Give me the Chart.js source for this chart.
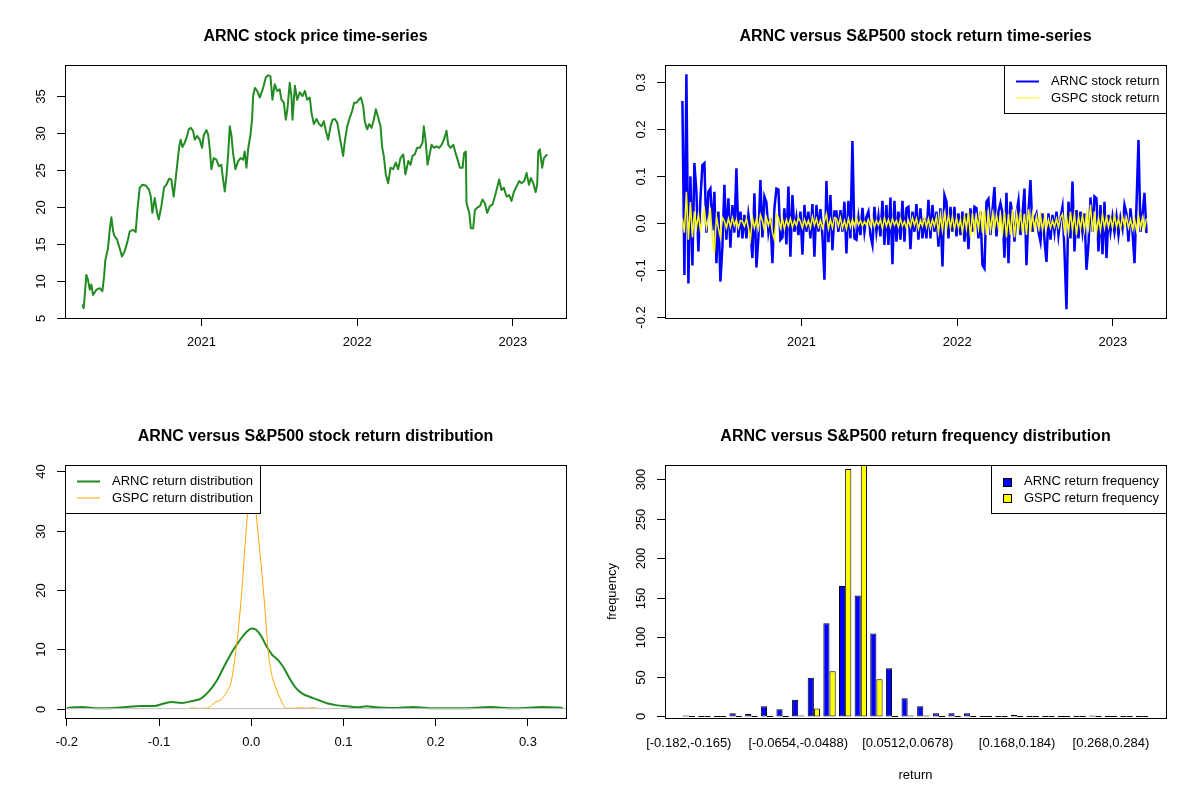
<!DOCTYPE html>
<html>
<head>
<meta charset="utf-8">
<title>ARNC versus S&amp;P500</title>
<script src="https://cdn.jsdelivr.net/npm/chart.js@4.4.0/dist/chart.umd.min.js"></script>
<style>
  body { margin: 0; background: #fff; }
  #wrap { position: relative; width: 1200px; height: 800px; }
  canvas { position: absolute; }
</style>
</head>
<body>
<div id="wrap">
  <canvas id="price" width="600" height="400" style="left:0px;top:0px"></canvas>
  <canvas id="returns" width="600" height="400" style="left:600px;top:0px"></canvas>
  <canvas id="density" width="600" height="400" style="left:0px;top:400px"></canvas>
  <canvas id="freq" width="600" height="400" style="left:600px;top:400px"></canvas>
</div>
<script>
// ---- data ----

// ARNC closing price (x = decimal year)
const priceYears = [
  2020.236, 2020.244, 2020.251, 2020.261, 2020.272, 2020.283, 2020.293, 2020.304, 2020.326, 2020.347,
  2020.364, 2020.375, 2020.383, 2020.400, 2020.411, 2020.422, 2020.433, 2020.443, 2020.458, 2020.475,
  2020.490, 2020.507, 2020.525, 2020.540, 2020.561, 2020.578, 2020.589, 2020.604, 2020.621, 2020.642,
  2020.664, 2020.675, 2020.685, 2020.700, 2020.715, 2020.726, 2020.743, 2020.760, 2020.775, 2020.792,
  2020.807, 2020.822, 2020.835, 2020.848, 2020.857, 2020.867, 2020.878, 2020.893, 2020.908, 2020.919,
  2020.931, 2020.946, 2020.957, 2020.972, 2020.989, 2021.004, 2021.015, 2021.032, 2021.043, 2021.054,
  2021.064, 2021.079, 2021.096, 2021.113, 2021.128, 2021.139, 2021.150, 2021.161, 2021.171, 2021.182,
  2021.193, 2021.203, 2021.218, 2021.236, 2021.251, 2021.268, 2021.278, 2021.289, 2021.300, 2021.315,
  2021.325, 2021.332, 2021.343, 2021.358, 2021.375, 2021.390, 2021.400, 2021.413, 2021.428, 2021.443,
  2021.456, 2021.471, 2021.486, 2021.503, 2021.514, 2021.529, 2021.542, 2021.552, 2021.567, 2021.578,
  2021.585, 2021.600, 2021.615, 2021.632, 2021.649, 2021.664, 2021.679, 2021.696, 2021.707, 2021.722,
  2021.739, 2021.756, 2021.771, 2021.786, 2021.799, 2021.814, 2021.829, 2021.842, 2021.857, 2021.872,
  2021.884, 2021.899, 2021.910, 2021.921, 2021.936, 2021.953, 2021.968, 2021.981, 2021.996, 2022.011,
  2022.024, 2022.039, 2022.049, 2022.064, 2022.077, 2022.092, 2022.107, 2022.120, 2022.135, 2022.150,
  2022.161, 2022.171, 2022.184, 2022.199, 2022.214, 2022.231, 2022.248, 2022.263, 2022.278, 2022.296,
  2022.310, 2022.328, 2022.343, 2022.355, 2022.370, 2022.385, 2022.403, 2022.420, 2022.428, 2022.439,
  2022.452, 2022.467, 2022.478, 2022.493, 2022.510, 2022.527, 2022.542, 2022.557, 2022.574, 2022.585,
  2022.600, 2022.617, 2022.632, 2022.645, 2022.660, 2022.677, 2022.687, 2022.698, 2022.702, 2022.720,
  2022.730, 2022.745, 2022.756, 2022.771, 2022.788, 2022.805, 2022.820, 2022.835, 2022.852, 2022.869,
  2022.884, 2022.899, 2022.912, 2022.927, 2022.942, 2022.959, 2022.976, 2022.991, 2023.006, 2023.024,
  2023.041, 2023.056, 2023.073, 2023.088, 2023.103, 2023.116, 2023.131, 2023.146, 2023.156, 2023.163,
  2023.173, 2023.188, 2023.199, 2023.212, 2023.221
];
const priceValues = [
  6.8, 6.3, 8.1, 10.8, 10.1, 8.8, 9.5, 8.1, 8.8, 9.0,
  8.6, 10.6, 12.8, 14.4, 16.9, 18.6, 16.7, 16.0, 15.6, 14.4,
  13.3, 14.0, 15.3, 16.7, 16.9, 16.6, 19.6, 22.6, 23.0, 22.9,
  22.3, 21.4, 19.2, 21.2, 19.2, 18.3, 20.1, 22.6, 23.0, 23.8,
  23.7, 21.4, 23.9, 26.4, 28.1, 29.1, 28.1, 28.7, 29.6, 30.5,
  30.7, 30.3, 29.1, 29.6, 29.1, 28.0, 29.7, 30.4, 29.8, 27.8,
  25.1, 26.6, 26.4, 25.5, 25.7, 23.7, 22.1, 24.2, 26.9, 30.9,
  29.6, 27.3, 25.1, 26.2, 26.6, 26.4, 27.5, 25.3, 27.8, 29.8,
  31.8, 35.0, 36.1, 35.7, 34.8, 35.7, 36.4, 37.5, 37.8, 37.7,
  34.5, 36.6, 35.7, 35.9, 34.5, 34.1, 31.8, 33.2, 36.8, 35.0,
  31.8, 36.4, 34.5, 35.5, 35.0, 35.7, 34.5, 34.8, 32.7, 31.2,
  31.9, 31.2, 30.9, 31.6, 30.3, 29.1, 30.9, 31.8, 31.9, 31.4,
  30.0, 28.2, 26.9, 28.9, 30.9, 32.1, 33.0, 34.1, 34.1, 34.5,
  34.8, 33.6, 31.6, 30.5, 31.2, 30.7, 31.8, 33.2, 32.1, 30.9,
  28.0, 26.9, 24.4, 23.2, 25.3, 25.1, 26.0, 25.1, 26.6, 27.1,
  24.4, 26.2, 25.7, 26.9, 27.1, 28.0, 28.0, 28.7, 30.9, 29.1,
  25.7, 27.3, 28.4, 28.0, 28.2, 28.0, 28.4, 29.1, 30.3, 28.4,
  28.0, 28.4, 27.3, 26.4, 25.3, 25.3, 27.3, 27.5, 20.5, 19.2,
  17.1, 17.1, 19.6, 19.9, 20.1, 21.0, 20.5, 19.2, 20.1, 20.3,
  21.4, 22.6, 23.7, 22.3, 22.6, 21.4, 21.6, 20.8, 22.0, 22.8,
  23.5, 23.2, 23.5, 24.6, 23.0, 23.9, 23.2, 22.0, 23.0, 27.5,
  27.8, 25.3, 26.6, 26.9, 27.1
];

// daily returns, sampled at even steps of time from returnStart
const returnStart = 2020.2357;
const returnStep = 0.012845;
const arncReturn = [
  0.26, -0.11, 0.317, -0.128, 0.10, -0.09, 0.128, 0.067, -0.06, 0.05,
  0.124, 0.128, -0.02, 0.067, 0.074, -0.015, 0.067, -0.085, 0.025, -0.124,
  -0.05, 0.082, -0.035, 0.053, -0.052, 0.039, -0.02, 0.117, -0.03, 0.025,
  -0.032, 0.018, -0.032, 0.018, -0.015, -0.074, 0.064, -0.094, -0.03, 0.092,
  -0.03, 0.057, 0.045, -0.018, 0.01, -0.085, 0.032, 0.074, 0.072, -0.035,
  -0.03, 0.032, -0.045, 0.078, -0.071, 0.06, -0.018, 0.012, -0.025, 0.025,
  -0.067, 0.039, -0.018, 0.025, -0.032, 0.041, -0.071, 0.039, -0.018, 0.03,
  -0.025, -0.12, 0.09, -0.04, 0.06, -0.057, 0.025,
  0.025, -0.018, 0.028, -0.018, 0.046, -0.064, 0.048, -0.032, 0.175, -0.032,
  -0.035, 0.011, -0.025, 0.033, -0.018, 0.014, 0.025, -0.025, -0.046, 0.035,
  -0.018, 0.015, -0.028, 0.048, -0.046, 0.039, -0.046, 0.055, -0.087, 0.048,
  -0.039, 0.025, -0.035, 0.048, -0.039, 0.032, 0.035, -0.055, 0.025, -0.018,
  0.041, -0.035, 0.032, -0.032, 0.011, -0.032, 0.05, -0.032, 0.039, -0.018,
  0.025, -0.05, 0.032, -0.092, 0.06, 0.046, -0.032, 0.035, -0.018, 0.035,
  -0.028, 0.021, -0.025, 0.025, -0.039, 0.021, -0.055, 0.032, -0.018, 0.035,
  0.032, -0.032, 0.025, -0.089, -0.096, 0.046, 0.052, -0.025, 0.028, 0.077,
  -0.028, 0.025,
  0.043, 0.021, -0.073, 0.065, -0.085, 0.046, 0.018, -0.039, 0.021, 0.048,
  -0.025, 0.018, 0.074, -0.089, 0.025, 0.092, -0.018, 0.011, 0.021, -0.018,
  -0.039, 0.021, -0.035, -0.082, 0.021, -0.035, 0.018, -0.018, 0.025, -0.025,
  0.011, 0.035, -0.06, -0.183, 0.046, -0.032, 0.089, -0.06, 0.028, -0.032,
  0.025, -0.018, 0.021, -0.099, -0.045, 0.055, -0.018, 0.057, 0.053, -0.06,
  0.039, -0.066, 0.046, -0.074, 0.018, -0.018, 0.014, -0.018, 0.014, -0.025,
  0.011, -0.011, 0.039, 0.021, -0.039, 0.032, -0.018, -0.085, 0.039, 0.177,
  -0.018, 0.018, 0.065, -0.021
];
const gspcReturn = [
  0.01, -0.02, 0.067, -0.035, 0.045, -0.03, 0.025, -0.01, 0.02, -0.015,
  0.01, 0.03, -0.01, 0.012, 0.028, -0.03, -0.064, 0.015, -0.01, -0.03,
  0.012, 0.005, -0.01, 0.01, -0.008, 0.012, -0.005, 0.008, -0.01, 0.006,
  0.004, -0.006, 0.01, -0.01, -0.035, 0.012, -0.01, 0.008, -0.012, 0.018,
  0.005, -0.015, 0.012, -0.005, 0.01, -0.02, -0.035, 0.02, 0.012, -0.01,
  0.01, -0.012, 0.008, -0.006, 0.01, -0.008, 0.006, -0.005, 0.012, 0.004,
  -0.01, 0.008, -0.006, 0.006, -0.01, 0.014, -0.004, 0.01, -0.008, 0.006,
  -0.01, 0.004, 0.02, -0.012, 0.008, -0.01, 0.012,
  0.01, -0.006, 0.012, -0.01, 0.006, -0.012, 0.01, -0.008, 0.008, -0.006,
  0.012, -0.004, 0.006, -0.006, 0.004, -0.004, 0.008, -0.006, 0.01, -0.008,
  0.006, -0.004, 0.008, -0.012, 0.012, -0.006, 0.008, -0.008, 0.01, -0.004,
  0.006, -0.008, 0.01, -0.006, 0.004, -0.01, 0.006, -0.008, 0.012, -0.004,
  0.01, -0.012, 0.006, -0.006, 0.012, -0.008, 0.01, -0.01, 0.008, -0.006,
  0.014, -0.02, 0.018, -0.015, 0.02, -0.012, 0.018, -0.01, 0.015, -0.014,
  0.012, -0.01, 0.008, -0.02, 0.016, -0.012, 0.025, -0.03, 0.022, -0.018,
  0.015, -0.012, 0.028, -0.02, 0.03, -0.025, 0.022, -0.015, 0.02, -0.012,
  0.018, -0.01,
  0.015, -0.02, 0.025, -0.03, 0.02, -0.025, 0.03, -0.03, 0.02, -0.015,
  0.025, -0.02, 0.02, -0.025, 0.03, -0.018, 0.02, -0.012, 0.015, -0.01,
  0.018, -0.015, 0.012, -0.01, 0.008, -0.01, 0.006, -0.008, 0.01, -0.008,
  0.012, 0.02, -0.018, 0.015, -0.02, 0.025, -0.015, 0.02, -0.025, 0.015,
  -0.012, 0.018, -0.015, 0.02, -0.01, 0.04, -0.018, 0.025, -0.02, 0.012,
  -0.015, 0.02, -0.01, 0.015, -0.008, 0.012, -0.01, 0.018, -0.008, 0.01,
  -0.012, 0.015, -0.006, 0.012, -0.01, 0.008, -0.012, 0.01, -0.015, 0.016,
  -0.01, 0.012, -0.012, 0.01
];

// kernel density of the returns
const arncDensityX = [
  -0.2, -0.1839, -0.1652, -0.1352, -0.1202, -0.1052, -0.094, -0.0865, -0.0753, -0.064,
  -0.0547, -0.0472, -0.0378, -0.0285, -0.0191, -0.0116, -0.006, 0.0007, 0.0052, 0.0109,
  0.0165, 0.0221, 0.0296, 0.0352, 0.0408, 0.0483, 0.0558, 0.0633, 0.0727, 0.082,
  0.0933, 0.1045, 0.1157, 0.1251, 0.1345, 0.1532, 0.1757, 0.1981, 0.2281, 0.2599,
  0.2843, 0.3161, 0.3378
];
const arncDensityY = [
  0.1, 0.28, 0.05, 0.28, 0.45, 0.45, 0.9, 1.1, 0.95, 1.3,
  1.7, 2.7, 4.6, 7.4, 10.0, 11.7, 12.8, 13.5, 13.3, 12.2,
  10.5, 9.2, 8.1, 6.9, 5.3, 3.5, 2.5, 2.0, 1.45, 0.9,
  0.55, 0.4, 0.22, 0.4, 0.22, 0.1, 0.28, 0.05, 0.05, 0.28,
  0.05, 0.28, 0.1
];
const gspcDensityX = [
  -0.0659, -0.0566, -0.0472, -0.0397, -0.0322, -0.0258, -0.0217, -0.0161, -0.0109, -0.0041,
  0.0004, 0.0052, 0.0139, 0.0184, 0.0221, 0.0266, 0.0326, 0.0371, 0.045, 0.052,
  0.06, 0.066, 0.0727
];
const gspcDensityY = [
  0.15, 0.05, 0.1, 1.0, 1.6, 3.0, 4.6, 10.5, 18.6, 32.9,
  39.5, 32.9, 18.6, 9.7, 5.8, 3.5, 1.3, 0.1, 0.05, 0.15,
  0.05, 0.15, 0.05
];

// histogram of the returns
const binLabels = [
  "[-0.182,-0.165)", "[-0.165,-0.149)", "[-0.149,-0.132)", "[-0.132,-0.115)", "[-0.115,-0.0988)",
  "[-0.0988,-0.0821)", "[-0.0821,-0.0654)", "[-0.0654,-0.0488)", "[-0.0488,-0.0321)", "[-0.0321,-0.0155)",
  "[-0.0155,0.0012)", "[0.0012,0.0179)", "[0.0179,0.0345)", "[0.0345,0.0512)", "[0.0512,0.0678)",
  "[0.0678,0.0845)", "[0.0845,0.101)", "[0.101,0.118)", "[0.118,0.134)", "[0.134,0.151)",
  "[0.151,0.168)", "[0.168,0.184)", "[0.184,0.201)", "[0.201,0.218)", "[0.218,0.234)",
  "[0.234,0.251)", "[0.251,0.268)", "[0.268,0.284)", "[0.284,0.301)", "[0.301,0.318]"
];
const arncFreq = [1, 0, 0, 4, 3, 13, 9, 21, 49, 118, 165, 153, 105, 61, 23, 13, 4, 4, 4, 0, 0, 2, 0, 0, 0, 0, 1, 0, 0, 0];
const gspcFreq = [0, 0, 0, 0, 0, 0, 0, 1, 10, 57, 313, 318, 47, 0, 1, 1, 0, 0, 0, 0, 0, 0, 0, 0, 0, 0, 0, 0, 0, 0];
const shownBins = [0, 7, 14, 21, 27];   // labels R kept after overlap check

// tick labels
const yearTicks = [2021, 2022, 2023];
const priceTicks = [5, 10, 15, 20, 25, 30, 35];
const returnTicks = [-0.2, -0.1, 0, 0.1, 0.2, 0.3];
const densityXTicks = [-0.2, -0.1, 0, 0.1, 0.2, 0.3];
const densityYTicks = [0, 10, 20, 30, 40];
const freqTicks = [0, 50, 100, 150, 200, 250, 300];

// ---- drawing ----
const FONT = '"Liberation Sans", Arial, Helvetica, sans-serif';
Chart.defaults.font.family = FONT;
Chart.defaults.font.size = 13;
Chart.defaults.color = '#000';

// plot box of every panel (canvas coords)
const BOX = { left: 65, top: 65, right: 566, bottom: 318 };

// R style frame: box, rotated y labels, title, axis titles, legend
function rFrame(cfg) {
  return {
    id: 'rFrame',
    afterDraw(chart) {
      const ctx = chart.ctx;
      const y = chart.scales.y;
      ctx.save();
      ctx.strokeStyle = '#000';
      ctx.fillStyle = '#000';
      ctx.lineWidth = 1;

      ctx.font = '13px ' + FONT;
      ctx.textAlign = 'center';
      ctx.textBaseline = 'middle';
      cfg.yTicks.forEach(function(v) {
        const py = Math.round(y.getPixelForValue(v)) + 0.5;
        ctx.beginPath();
        ctx.moveTo(BOX.left - 8, py);
        ctx.lineTo(BOX.left, py);
        ctx.stroke();
        ctx.save();
        ctx.translate(BOX.left - 23.5, py);
        ctx.rotate(-Math.PI / 2);
        ctx.fillText(cfg.yLabel(v), 0, 0);
        ctx.restore();
      });

      if (cfg.xTitle) {
        ctx.fillText(cfg.xTitle, (BOX.left + BOX.right) / 2, 375);
      }
      if (cfg.yTitle) {
        ctx.save();
        ctx.translate(12, (BOX.top + BOX.bottom) / 2);
        ctx.rotate(-Math.PI / 2);
        ctx.fillText(cfg.yTitle, 0, 0);
        ctx.restore();
      }

      if (cfg.legend) drawLegend(ctx, cfg.legend);

      ctx.strokeStyle = '#000';
      ctx.lineWidth = 1;
      ctx.strokeRect(BOX.left + 0.5, BOX.top + 0.5, BOX.right - BOX.left, BOX.bottom - BOX.top);

      ctx.fillStyle = '#000';
      ctx.font = 'bold 16px ' + FONT;
      ctx.textAlign = 'center';
      ctx.textBaseline = 'alphabetic';
      ctx.fillText(cfg.title, (BOX.left + BOX.right) / 2, 40.5);
      ctx.restore();
    }
  };
}

function drawLegend(ctx, lg) {
  ctx.font = '13px ' + FONT;
  let textW = 0;
  lg.items.forEach(function(it) { textW = Math.max(textW, ctx.measureText(it.label).width); });
  const fill = lg.kind === 'fill';
  const textOff = fill ? 33 : 47;
  const w = Math.round(textOff + textW + 7);
  const h = 48;
  const x0 = lg.corner === 'topright' ? BOX.right - w : BOX.left;
  const y0 = BOX.top;
  ctx.fillStyle = '#fff';
  ctx.fillRect(x0, y0, w, h);
  ctx.strokeStyle = '#000';
  ctx.lineWidth = 1;
  ctx.strokeRect(x0 + 0.5, y0 + 0.5, w, h);
  lg.items.forEach(function(it, i) {
    const cy = y0 + 16.5 + i * 16.5;
    if (fill) {
      ctx.fillStyle = it.color;
      ctx.fillRect(x0 + 12, Math.round(cy) - 4, 9, 9);
      ctx.strokeStyle = '#000';
      ctx.lineWidth = 1;
      ctx.strokeRect(x0 + 12.5, Math.round(cy) - 3.5, 8, 8);
    } else {
      ctx.strokeStyle = it.color;
      ctx.lineWidth = it.width;
      ctx.beginPath();
      ctx.moveTo(x0 + 12, cy);
      ctx.lineTo(x0 + 35, cy);
      ctx.stroke();
    }
    ctx.fillStyle = '#000';
    ctx.textAlign = 'left';
    ctx.textBaseline = 'middle';
    ctx.fillText(it.label, x0 + textOff, cy);
  });
}

function tickAxis(min, max, ticks, fmt) {
  return {
    type: 'linear', min: min, max: max,
    afterBuildTicks: function(s) { s.ticks = ticks.map(function(v) { return { value: v }; }); },
    afterFit: function(s) { s.height = 82; },
    grid: { display: true, drawOnChartArea: false, drawTicks: true, tickLength: 8, color: '#000', lineWidth: 1 },
    border: { display: false },
    ticks: { padding: 9, maxRotation: 0, minRotation: 0, autoSkip: false, callback: fmt }
  };
}

function baseOptions(padding) {
  return {
    responsive: false,
    animation: false,
    devicePixelRatio: 1,
    events: [],
    layout: { padding: padding },
    plugins: { legend: { display: false }, tooltip: { enabled: false } }
  };
}

const oneDec = function(v) { return Number(v).toFixed(1); };
const plain = function(v) { return String(v); };

// top left: price
const priceOpt = baseOptions({ left: 65, top: 65, right: 34, bottom: 0 });
priceOpt.scales = {
  x: tickAxis(2020.124, 2023.341, yearTicks, plain),
  y: { type: 'linear', min: 4.97, max: 39.2, display: false }
};
new Chart(document.getElementById('price'), {
  type: 'line',
  data: {
    datasets: [{
      data: priceYears.map(function(x, i) { return { x: x, y: priceValues[i] }; }),
      borderColor: '#228B22', borderWidth: 2, pointRadius: 0, tension: 0,
      borderJoinStyle: 'round'
    }]
  },
  options: priceOpt,
  plugins: [rFrame({ title: 'ARNC stock price time-series', yTicks: priceTicks, yLabel: plain })]
});

// top right: returns (first dataset is drawn on top)
const retOpt = baseOptions({ left: 65, top: 65, right: 34, bottom: 0 });
retOpt.scales = {
  x: tickAxis(2020.124, 2023.341, yearTicks, plain),
  y: { type: 'linear', min: -0.2015, max: 0.3368, display: false }
};
new Chart(document.getElementById('returns'), {
  type: 'line',
  data: {
    datasets: [{
      label: 'GSPC stock return',
      data: gspcReturn.map(function(v, i) { return { x: returnStart + i * returnStep, y: v }; }),
      borderColor: '#FFFF00', borderWidth: 1.5, pointRadius: 0, tension: 0
    }, {
      label: 'ARNC stock return',
      data: arncReturn.map(function(v, i) { return { x: returnStart + i * returnStep, y: v }; }),
      borderColor: '#0000FF', borderWidth: 2.5, pointRadius: 0, tension: 0
    }]
  },
  options: retOpt,
  plugins: [rFrame({
    title: 'ARNC versus S&P500 stock return time-series', yTicks: returnTicks, yLabel: oneDec,
    legend: { kind: 'line', corner: 'topright', items: [
      { label: 'ARNC stock return', color: '#0000FF', width: 2 },
      { label: 'GSPC stock return', color: '#FFFF00', width: 1 }
    ] }
  })]
});

// bottom left: density
const denOpt = baseOptions({ left: 65, top: 65, right: 34, bottom: 0 });
denOpt.scales = {
  x: tickAxis(-0.202, 0.3413, densityXTicks, oneDec),
  y: { type: 'linear', min: -1.58, max: 41.08, display: false }
};
new Chart(document.getElementById('density'), {
  type: 'line',
  data: {
    datasets: [{
      label: 'zero',
      data: [{ x: -0.202, y: 0 }, { x: 0.3413, y: 0 }],
      borderColor: '#BEBEBE', borderWidth: 1, pointRadius: 0
    }, {
      label: 'GSPC return distribution',
      data: gspcDensityX.map(function(x, i) { return { x: x, y: gspcDensityY[i] }; }),
      borderColor: '#FFA500', borderWidth: 1, pointRadius: 0, cubicInterpolationMode: 'monotone'
    }, {
      label: 'ARNC return distribution',
      data: arncDensityX.map(function(x, i) { return { x: x, y: arncDensityY[i] }; }),
      borderColor: '#228B22', borderWidth: 2, pointRadius: 0, cubicInterpolationMode: 'monotone'
    }]
  },
  options: denOpt,
  plugins: [rFrame({
    title: 'ARNC versus S&P500 stock return distribution', yTicks: densityYTicks, yLabel: plain,
    legend: { kind: 'line', corner: 'topleft', items: [
      { label: 'ARNC return distribution', color: '#228B22', width: 2 },
      { label: 'GSPC return distribution', color: '#FFA500', width: 1 }
    ] }
  })]
});

// bottom right: frequency bars, bar area inset like R barplot
const freqOpt = baseOptions({ left: 81, top: 65, right: 50, bottom: 0 });
freqOpt.scales = {
  x: {
    type: 'category', offset: true,
    afterFit: function(s) { s.height = 82; },
    grid: { display: false },
    border: { display: false },
    ticks: {
      padding: 10, autoSkip: false, maxRotation: 0, minRotation: 0,
      callback: function(v, i) { return shownBins.indexOf(i) >= 0 ? binLabels[i] : ''; }
    }
  },
  y: { type: 'linear', min: -2, max: 318, display: false }
};
new Chart(document.getElementById('freq'), {
  type: 'bar',
  data: {
    labels: binLabels,
    datasets: [{
      label: 'ARNC return frequency', data: arncFreq,
      backgroundColor: '#0000FF', borderColor: '#000', borderWidth: 1, borderSkipped: false,
      minBarLength: 1, categoryPercentage: 0.79, barPercentage: 1
    }, {
      label: 'GSPC return frequency', data: gspcFreq,
      backgroundColor: '#FFFF00', borderColor: '#000', borderWidth: 1, borderSkipped: false,
      minBarLength: 1, categoryPercentage: 0.79, barPercentage: 1
    }]
  },
  options: freqOpt,
  plugins: [rFrame({
    title: 'ARNC versus S&P500 return frequency distribution', yTicks: freqTicks, yLabel: plain,
    xTitle: 'return', yTitle: 'frequency',
    legend: { kind: 'fill', corner: 'topright', items: [
      { label: 'ARNC return frequency', color: '#0000FF' },
      { label: 'GSPC return frequency', color: '#FFFF00' }
    ] }
  })]
});
</script>
</body>
</html>
